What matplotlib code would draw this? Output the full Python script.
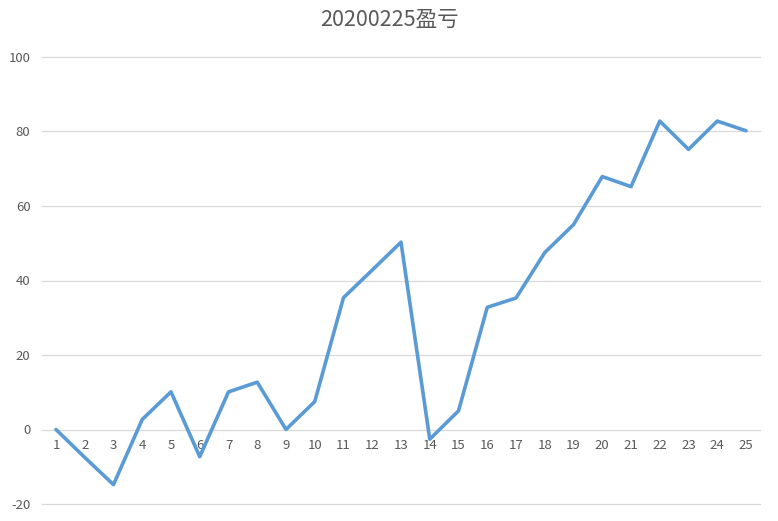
import matplotlib.pyplot as plt

plt.rcParams['font.family'] = ['Noto Sans CJK SC', 'DejaVu Sans']
plt.rcParams['axes.unicode_minus'] = False

# data
days = list(range(1, 26))
profit = [0, -7.5, -14.8, 2.7, 10.1, -7.3, 10.1, 12.7, 0, 7.5,
          35.4, 42.8, 50.3, -2.6, 5.0, 32.8, 35.3, 47.5, 55.0, 67.9,
          65.2, 82.8, 75.2, 82.8, 80.2]
yticks = [-20, 0, 20, 40, 60, 80, 100]
title = "20200225盈亏"

fig = plt.figure(figsize=(7.78, 5.21), dpi=100)
ax = fig.add_axes([41.6 / 778, 1 - 504 / 521, (760.4 - 41.6) / 778, (504 - 57) / 521])

ax.plot(days, profit, color="#5B9BD5", linewidth=2.6,
        solid_joinstyle="round", solid_capstyle="round", zorder=3)

ax.set_xlim(0.5, 25.5)
ax.set_ylim(-20, 100)
ax.set_yticks(yticks)
ax.set_xticks(days)
ax.grid(axis="y", color="#D9D9D9", linewidth=0.9)
ax.set_axisbelow(True)
# keep the edge gridlines (-20 and 100) from being clipped
for gl in ax.get_ygridlines():
    gl.set_clip_on(False)

for s in ax.spines.values():
    s.set_visible(False)
# category labels sit right under the zero line
ax.spines["bottom"].set_position(("data", 0))

ax.tick_params(axis="both", length=0, labelsize=9.5, labelcolor="#595959")
ax.tick_params(axis="y", pad=8)
ax.tick_params(axis="x", pad=7)

fig.text(0.5, 1 - 20 / 521, title, ha="center", va="center",
         fontsize=15.5, color="#595959")

fig.savefig("out.png", dpi=100)
